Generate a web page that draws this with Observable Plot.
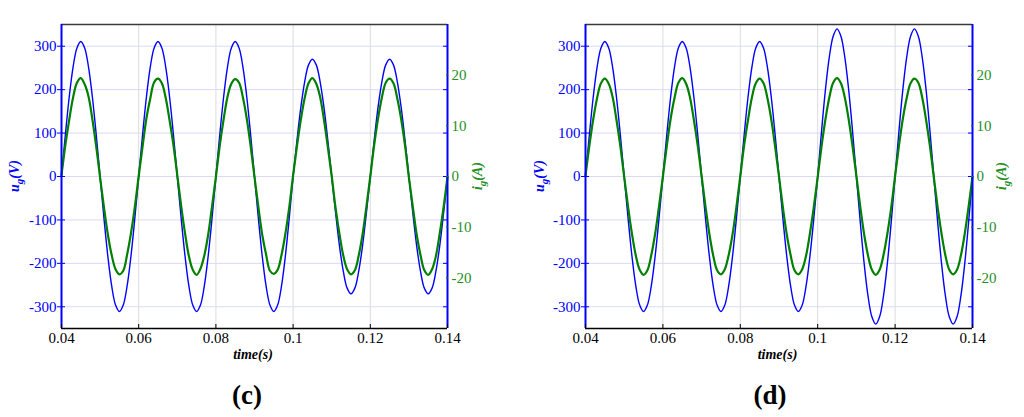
<!DOCTYPE html>
<html>
<head>
<meta charset="utf-8">
<script src="https://cdn.jsdelivr.net/npm/d3@7"></script>
<script src="https://cdn.jsdelivr.net/npm/@observablehq/plot@0.6"></script>
<style>
  html, body { margin: 0; padding: 0; background: #fff; }
  body { width: 1024px; height: 417px; overflow: hidden; font-family: "Liberation Serif", "Times New Roman", serif; }
  #row { display: flex; }
  .panel { position: relative; width: 512px; height: 417px; }
  .panel svg { display: block; }
  .cap { position: absolute; top: 380px; width: 60px; text-align: center; font-family: "Liberation Serif", "Times New Roman", serif; font-weight: bold; font-size: 27px; line-height: 30px; color: #000; }
</style>
</head>
<body>
<div id="row"></div>
<script>
// ---- data ----
const time = [0.040,0.041,0.042,0.043,0.044,0.045,0.046,0.047,0.048,0.049,
  0.050,0.051,0.052,0.053,0.054,0.055,0.056,0.057,0.058,0.059,
  0.060,0.061,0.062,0.063,0.064,0.065,0.066,0.067,0.068,0.069,
  0.070,0.071,0.072,0.073,0.074,0.075,0.076,0.077,0.078,0.079,
  0.080,0.081,0.082,0.083,0.084,0.085,0.086,0.087,0.088,0.089,
  0.090,0.091,0.092,0.093,0.094,0.095,0.096,0.097,0.098,0.099,
  0.100,0.101,0.102,0.103,0.104,0.105,0.106,0.107,0.108,0.109,
  0.110,0.111,0.112,0.113,0.114,0.115,0.116,0.117,0.118,0.119,
  0.120,0.121,0.122,0.123,0.124,0.125,0.126,0.127,0.128,0.129,
  0.130,0.131,0.132,0.133,0.134,0.135,0.136,0.137,0.138,0.139,
  0.140];

const uC = [0,96,183,252,296,311,296,252,183,96,0,-96,-183,-252,-296,-311,-296,-252,-183,-96,
  0,96,183,252,296,311,296,252,183,96,0,-96,-183,-252,-296,-311,-296,-252,-183,-96,
  0,96,183,252,296,311,296,252,183,96,0,-96,-183,-252,-296,-311,-296,-252,-183,-96,
  0,83,159,218,257,270,257,218,159,83,0,-83,-159,-218,-257,-270,-257,-218,-159,-83,
  0,83,159,218,257,270,257,218,159,83,0,-83,-159,-218,-257,-270,-257,-218,-159,-83,
  0];

const uD = [0,96,183,252,296,311,296,252,183,96,0,-96,-183,-252,-296,-311,-296,-252,-183,-96,
  0,96,183,252,296,311,296,252,183,96,0,-96,-183,-252,-296,-311,-296,-252,-183,-96,
  0,96,183,252,296,311,296,252,183,96,0,-96,-183,-252,-296,-311,-296,-252,-183,-96,
  0,105,200,275,323,340,323,275,200,105,0,-105,-200,-275,-323,-340,-323,-275,-200,-105,
  0,105,200,275,323,340,323,275,200,105,0,-105,-200,-275,-323,-340,-323,-275,-200,-105,
  0];

const iC = [0.3,6.2,11.2,15.6,18.5,19.4,18.2,15.8,11.3,5.9,-0.2,-6.1,-11.4,-15.5,-18.3,-19.3,-18.6,-15.4,-11.2,-6.0,
  0.1,5.9,11.5,15.4,18.6,19.3,18.4,15.5,11.1,6.2,0.2,-5.8,-11.2,-15.7,-18.4,-19.4,-18.2,-15.6,-11.5,-5.9,
  -0.1,6.1,11.3,15.7,18.3,19.2,18.5,15.6,11.4,6.0,-0.1,-6.0,-11.5,-15.4,-18.6,-19.2,-18.4,-15.5,-11.3,-6.1,
  0.2,6.0,11.2,15.5,18.4,19.4,18.3,15.7,11.2,5.8,0.1,-6.2,-11.3,-15.6,-18.3,-19.3,-18.5,-15.6,-11.4,-5.9,
  0.0,6.2,11.4,15.6,18.5,19.3,18.4,15.4,11.3,6.1,-0.2,-5.9,-11.4,-15.5,-18.5,-19.4,-18.3,-15.7,-11.2,-6.0,
  -0.1];

const iD = [0.2,6.1,11.3,15.5,18.4,19.3,18.3,15.7,11.2,6.0,-0.1,-6.0,-11.3,-15.6,-18.4,-19.4,-18.5,-15.5,-11.3,-5.9,
  0.0,6.0,11.4,15.5,18.5,19.4,18.3,15.6,11.2,6.1,0.1,-5.9,-11.3,-15.6,-18.5,-19.3,-18.3,-15.5,-11.4,-6.0,
  0.1,6.2,11.2,15.6,18.4,19.3,18.4,15.5,11.3,5.9,0.0,-6.1,-11.4,-15.5,-18.5,-19.3,-18.3,-15.6,-11.2,-6.0,
  -0.1,6.0,11.3,15.6,18.5,19.4,18.4,15.6,11.3,6.0,0.1,-6.0,-11.4,-15.6,-18.4,-19.4,-18.4,-15.5,-11.3,-6.1,
  0.1,6.1,11.4,15.5,18.4,19.3,18.5,15.6,11.2,6.0,-0.1,-6.1,-11.3,-15.6,-18.4,-19.3,-18.4,-15.6,-11.3,-5.9,
  0.0];

const xTicks = [0.04,0.06,0.08,0.10,0.12,0.14];
const xTickLabels = ["0.04","0.06","0.08","0.1","0.12","0.14"];
const uTicks = [-300,-200,-100,0,100,200,300];
const uTickLabels = ["-300","-200","-100","0","100","200","300"];
const iTicks = [-20,-10,0,10,20];
const iTickLabels = ["-20","-10","0","10","20"];
const tDomain = [0.04,0.14];
const uDomain = [-350,350];
const iDomain = [-30,30];
const xLabel = "time(s)";
const captions = ["(c)","(d)"];

// ---- layout ----
const panels = [
  {u: uC, i: iC, caption: captions[0], ml: 61, mr: 65, labL: 19, labR: 482, capX: 247},
  {u: uD, i: iD, caption: captions[1], ml: 73, mr: 52, labL: 32, labR: 494, capX: 258}
];

const BLUE = "#0000ff", GREEN = "#008000", GREENTXT = "#1f8f1f";
const W = 512, H = 370, MT = 24, MB = 42;
const FONT = "'Liberation Serif', 'Times New Roman', serif";
const k = uDomain[1] / iDomain[1];

const row = document.getElementById("row");
for (const p of panels) {
  const rows = time.map((t, j) => ({t, u: p.u[j], i: p.i[j]}));
  const plot = Plot.plot({
    width: W, height: H,
    marginLeft: p.ml, marginRight: p.mr, marginTop: MT, marginBottom: MB,
    style: "font-family: 'Liberation Serif', 'Times New Roman', serif; font-size: 14px; background: white; overflow: visible;",
    x: {domain: tDomain},
    y: {domain: uDomain},
    marks: [
      Plot.gridY(uTicks, {stroke: "#dadaf8", strokeOpacity: 1, strokeWidth: 1}),
      Plot.gridX(xTicks, {stroke: "#dcdcdc", strokeOpacity: 1, strokeWidth: 1}),
      Plot.line(rows, {x: "t", y: "u", stroke: BLUE, strokeWidth: 1.4, curve: "catmull-rom"}),
      Plot.line(rows, {x: "t", y: d => d.i * k, stroke: GREEN, strokeWidth: 2.2, curve: "catmull-rom"}),
      Plot.ruleY([uDomain[1]], {stroke: "#3a3a3a", strokeWidth: 1.6}),
      Plot.ruleY([uDomain[0]], {stroke: "#000", strokeWidth: 1.6}),
      Plot.ruleX([tDomain[0]], {stroke: BLUE, strokeWidth: 2}),
      Plot.ruleX([tDomain[1]], {stroke: BLUE, strokeWidth: 2}),
      Plot.axisY(uTicks, {anchor: "left", stroke: BLUE, fill: BLUE, tickSize: 4, tickPadding: 1,
        tickFormat: d => uTickLabels[uTicks.indexOf(d)], label: null, fontSize: 15}),
      Plot.axisY(uTicks, {anchor: "left", stroke: BLUE, tickSize: -4, tickFormat: () => "", label: null}),
      Plot.axisY(uTicks, {anchor: "right", stroke: BLUE, tickSize: -5, tickFormat: () => "", label: null}),
      Plot.axisY(iTicks.map(v => v * k), {anchor: "right", stroke: GREEN, fill: GREENTXT, tickSize: -2, tickPadding: 6,
        tickFormat: d => iTickLabels[iTicks.indexOf(Math.round(d / k))], label: null, fontSize: 15}),
      Plot.axisX(xTicks, {anchor: "bottom", stroke: "#000", fill: "#000", tickSize: -4, tickPadding: 8,
        tickFormat: d => xTickLabels[xTicks.indexOf(d)], label: null, fontSize: 15})
    ]
  });

  const svg = d3.select(plot);
  const cy = MT + (H - MT - MB) / 2;
  const tl = svg.append("text")
    .attr("transform", `translate(${p.labL},${cy}) rotate(-90)`)
    .attr("text-anchor", "middle")
    .attr("font-weight", "bold").attr("font-style", "italic")
    .attr("font-size", 14).attr("fill", BLUE);
  tl.append("tspan").text("u");
  tl.append("tspan").attr("dy", 4).attr("font-size", 11).text("g");
  tl.append("tspan").attr("dy", -4).text("(V)");
  const tr = svg.append("text")
    .attr("transform", `translate(${p.labR},${cy}) rotate(-90)`)
    .attr("text-anchor", "middle")
    .attr("font-weight", "bold").attr("font-style", "italic")
    .attr("font-size", 14).attr("fill", GREENTXT);
  tr.append("tspan").text("i");
  tr.append("tspan").attr("dy", 4).attr("font-size", 11).text("g");
  tr.append("tspan").attr("dy", -4).text("(A)");
  svg.append("text")
    .attr("x", p.ml + (W - p.ml - p.mr) / 2 - 1).attr("y", 359)
    .attr("text-anchor", "middle")
    .attr("font-weight", "bold").attr("font-style", "italic")
    .attr("font-size", 14).attr("fill", "#000")
    .text(xLabel);
  svg.selectAll("g").attr("font-family", null);
  svg.selectAll("text, tspan").style("font-family", FONT, "important");

  const div = document.createElement("div");
  div.className = "panel";
  div.appendChild(plot);
  const cap = document.createElement("div");
  cap.className = "cap";
  cap.style.left = (p.capX - 30) + "px";
  cap.textContent = p.caption;
  div.appendChild(cap);
  row.appendChild(div);
}
</script>
</body>
</html>
